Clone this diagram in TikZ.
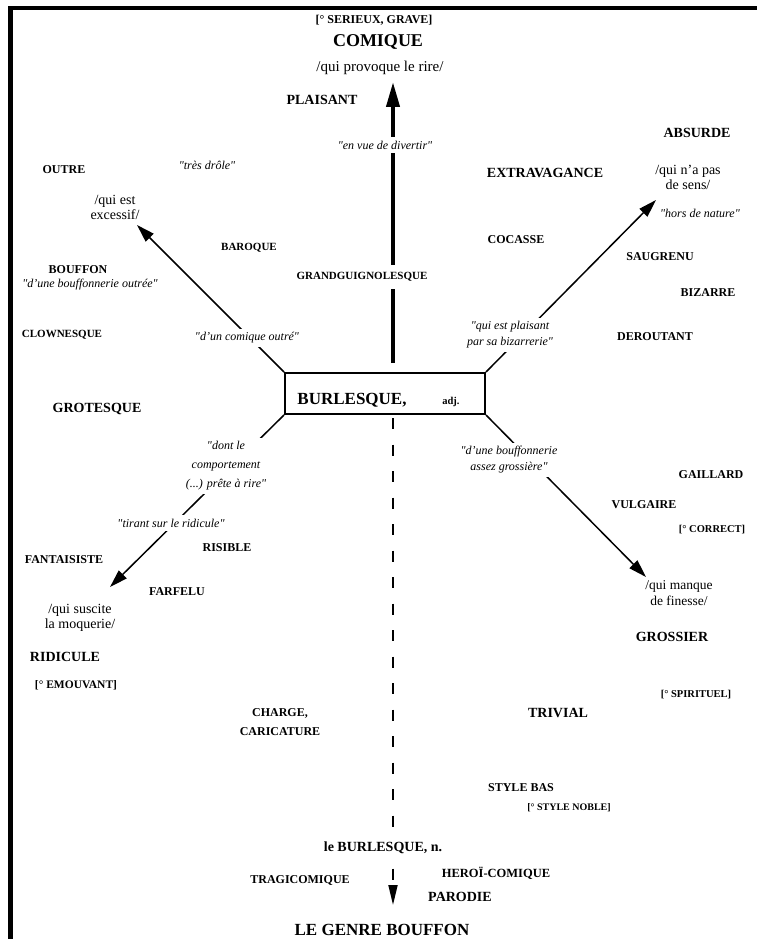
\documentclass[tikz,border=0pt]{standalone}
\usepackage{fontspec}
\setmainfont{Liberation Serif}
\usetikzlibrary{arrows.meta}
\newcommand{\gq}{\textquotedbl}

\begin{document}
\begin{tikzpicture}[x=1pt,y=-1pt]

\tikzset{
  % bold word of the field, size as argument
  mot/.style={font=\bfseries\fontsize{#1}{#1}\selectfont, inner sep=1pt},
  mot/.default=12,
  % definition between slashes
  glose/.style={font=\fontsize{#1}{15}\selectfont, align=center, inner sep=1pt},
  glose/.default=14,
  % quotation sitting on an arrow
  citation/.style={font=\itshape\fontsize{12}{16}\selectfont, align=center,
    fill=white, inner sep=3.5pt},
  % thin arrow to a corner of the box
  fleche/.style={line width=1.5pt, -{Triangle[length=18pt,width=11pt]}},
}

\useasboundingbox (0,0) rectangle (757,939);

% frame
\draw [line width=4.5pt] (10.5,939) -- (10.5,8) -- (757,8);

% central box
\node [draw, line width=2pt, minimum width=200pt, minimum height=41pt, inner sep=0pt]
  (burl) at (385,393.5) {};
\node [mot=17, anchor=base] (burltxt) at (352,404) {BURLESQUE,};
\node [mot=10.5, anchor=base] (adj) at (451,404) {adj.};

% ends of the arrows
\coordinate (haut) at (393,82);
\coordinate (bas) at (393,905);
\coordinate (hg) at (137,225);
\coordinate (hd) at (656,200);
\coordinate (bg) at (110,587);
\coordinate (bd) at (646,577);

\draw [line width=4pt, -{Triangle[length=25pt,width=13pt]}, shorten <=9pt]
  (burl.north -| haut) -- (haut);
\draw [line width=1.8pt, dash pattern=on 11pt off 15.5pt,
  -{Triangle[length=20pt,width=9pt]}, shorten <=3pt]
  (burl.south -| bas) -- (bas);
\draw [fleche] (burl.north west) -- (hg);
\draw [fleche] (burl.north east) -- (hd);
\draw [fleche] (burl.south west) -- (bg);
\draw [fleche] (burl.south east) -- (bd);

% top
\node [mot] (serieux) at (374,20) {[° SERIEUX, GRAVE]};
\node [mot=18] (comique) at (378,42) {COMIQUE};
\node [glose=15] (provoque) at (380,68) {/qui provoque le rire/};
\node [mot=14] (plaisant) at (322,100) {PLAISANT};
\node [citation] (divertir) at (385,145) {\gq en vue de divertir\gq};
\node [mot=11, fill=white, inner ysep=7pt] (grandg) at (362,277) {GRANDGUIGNOLESQUE};

% upper left
\node [citation] (tresdrole) at (207,165) {\gq très drôle\gq};
\node [mot] (outre) at (64,170) {OUTRE};
\node [glose] (excessif) at (115,207) {/qui est\\excessif/};
\node [mot=11] (baroque) at (249,248) {BAROQUE};
\node [mot] (bouffon) at (78,270) {BOUFFON};
\node [citation] (outree) at (90,285) {\gq d'une bouffonnerie outrée\gq};
\node [mot=11] (clownesque) at (62,335) {CLOWNESQUE};
\node [citation] (comoutre) at (247,338) {\gq d'un comique outré\gq};
\node [mot=14] (grotesque) at (97,409) {GROTESQUE};

% upper right
\node [mot=14] (absurde) at (697,133) {ABSURDE};
\node [glose] (sens) at (688,177) {/qui n'a pas\\de sens/};
\node [mot=14] (extrav) at (545,173) {EXTRAVAGANCE};
\node [citation] (nature) at (700,213) {\gq hors de nature\gq};
\node [mot] (cocasse) at (516,240) {COCASSE};
\node [mot] (saugrenu) at (660,257) {SAUGRENU};
\node [mot] (bizarre) at (708,293) {BIZARRE};
\node [citation] (bizarrerie) at (510,335) {\gq qui est plaisant\\par sa bizarrerie\gq};
\node [mot] (deroutant) at (655,337) {DEROUTANT};

% lower left
\node [citation, font=\itshape\fontsize{12}{19}\selectfont] (pretea) at (226,466)
  {\gq dont le\\comportement\\(...) prête à rire\gq};
\node [citation] (tirant) at (171,523) {\gq tirant sur le ridicule\gq};
\node [mot] (risible) at (227,548) {RISIBLE};
\node [mot] (fantaisiste) at (64,560) {FANTAISISTE};
\node [mot] (farfelu) at (177,592) {FARFELU};
\node [glose] (moquerie) at (80,618) {/qui suscite\\la moquerie/};
\node [mot=14] (ridicule) at (65,657) {RIDICULE};
\node [mot=11.5] (emouvant) at (76,685) {[° EMOUVANT]};

% lower right
\node [citation] (grossiere) at (509,460) {\gq d'une bouffonnerie\\assez grossière\gq};
\node [mot] (gaillard) at (711,475) {GAILLARD};
\node [mot] (vulgaire) at (644,505) {VULGAIRE};
\node [mot=10.5] (correct) at (712,530) {[° CORRECT]};
\node [glose=13.5, font=\fontsize{13.5}{16}\selectfont] (finesse) at (679,593) {/qui manque\\de finesse/};
\node [mot=14] (grossier) at (672,637) {GROSSIER};
\node [mot=10.5] (spirituel) at (696,695) {[° SPIRITUEL]};

% bottom
\node [mot, font=\bfseries\fontsize{12}{19}\selectfont, align=center] (charge) at (280,722)
  {CHARGE,\\CARICATURE};
\node [mot=14] (trivial) at (558,713) {TRIVIAL};
\node [mot] (stylebas) at (521,788) {STYLE BAS};
\node [mot=10] (noble) at (569,808) {[° STYLE NOBLE]};
\node [mot=14, fill=white, inner sep=3pt] (lebur) at (383,848) {le BURLESQUE, n.};
\node [mot=12.5] (heroi) at (496,873) {HEROÏ-COMIQUE};
\node [mot] (tragi) at (300,880) {TRAGICOMIQUE};
\node [mot=14] (parodie) at (460,897) {PARODIE};
\node [mot=17] (genre) at (382,930) {LE GENRE BOUFFON};

\end{tikzpicture}
\end{document}
